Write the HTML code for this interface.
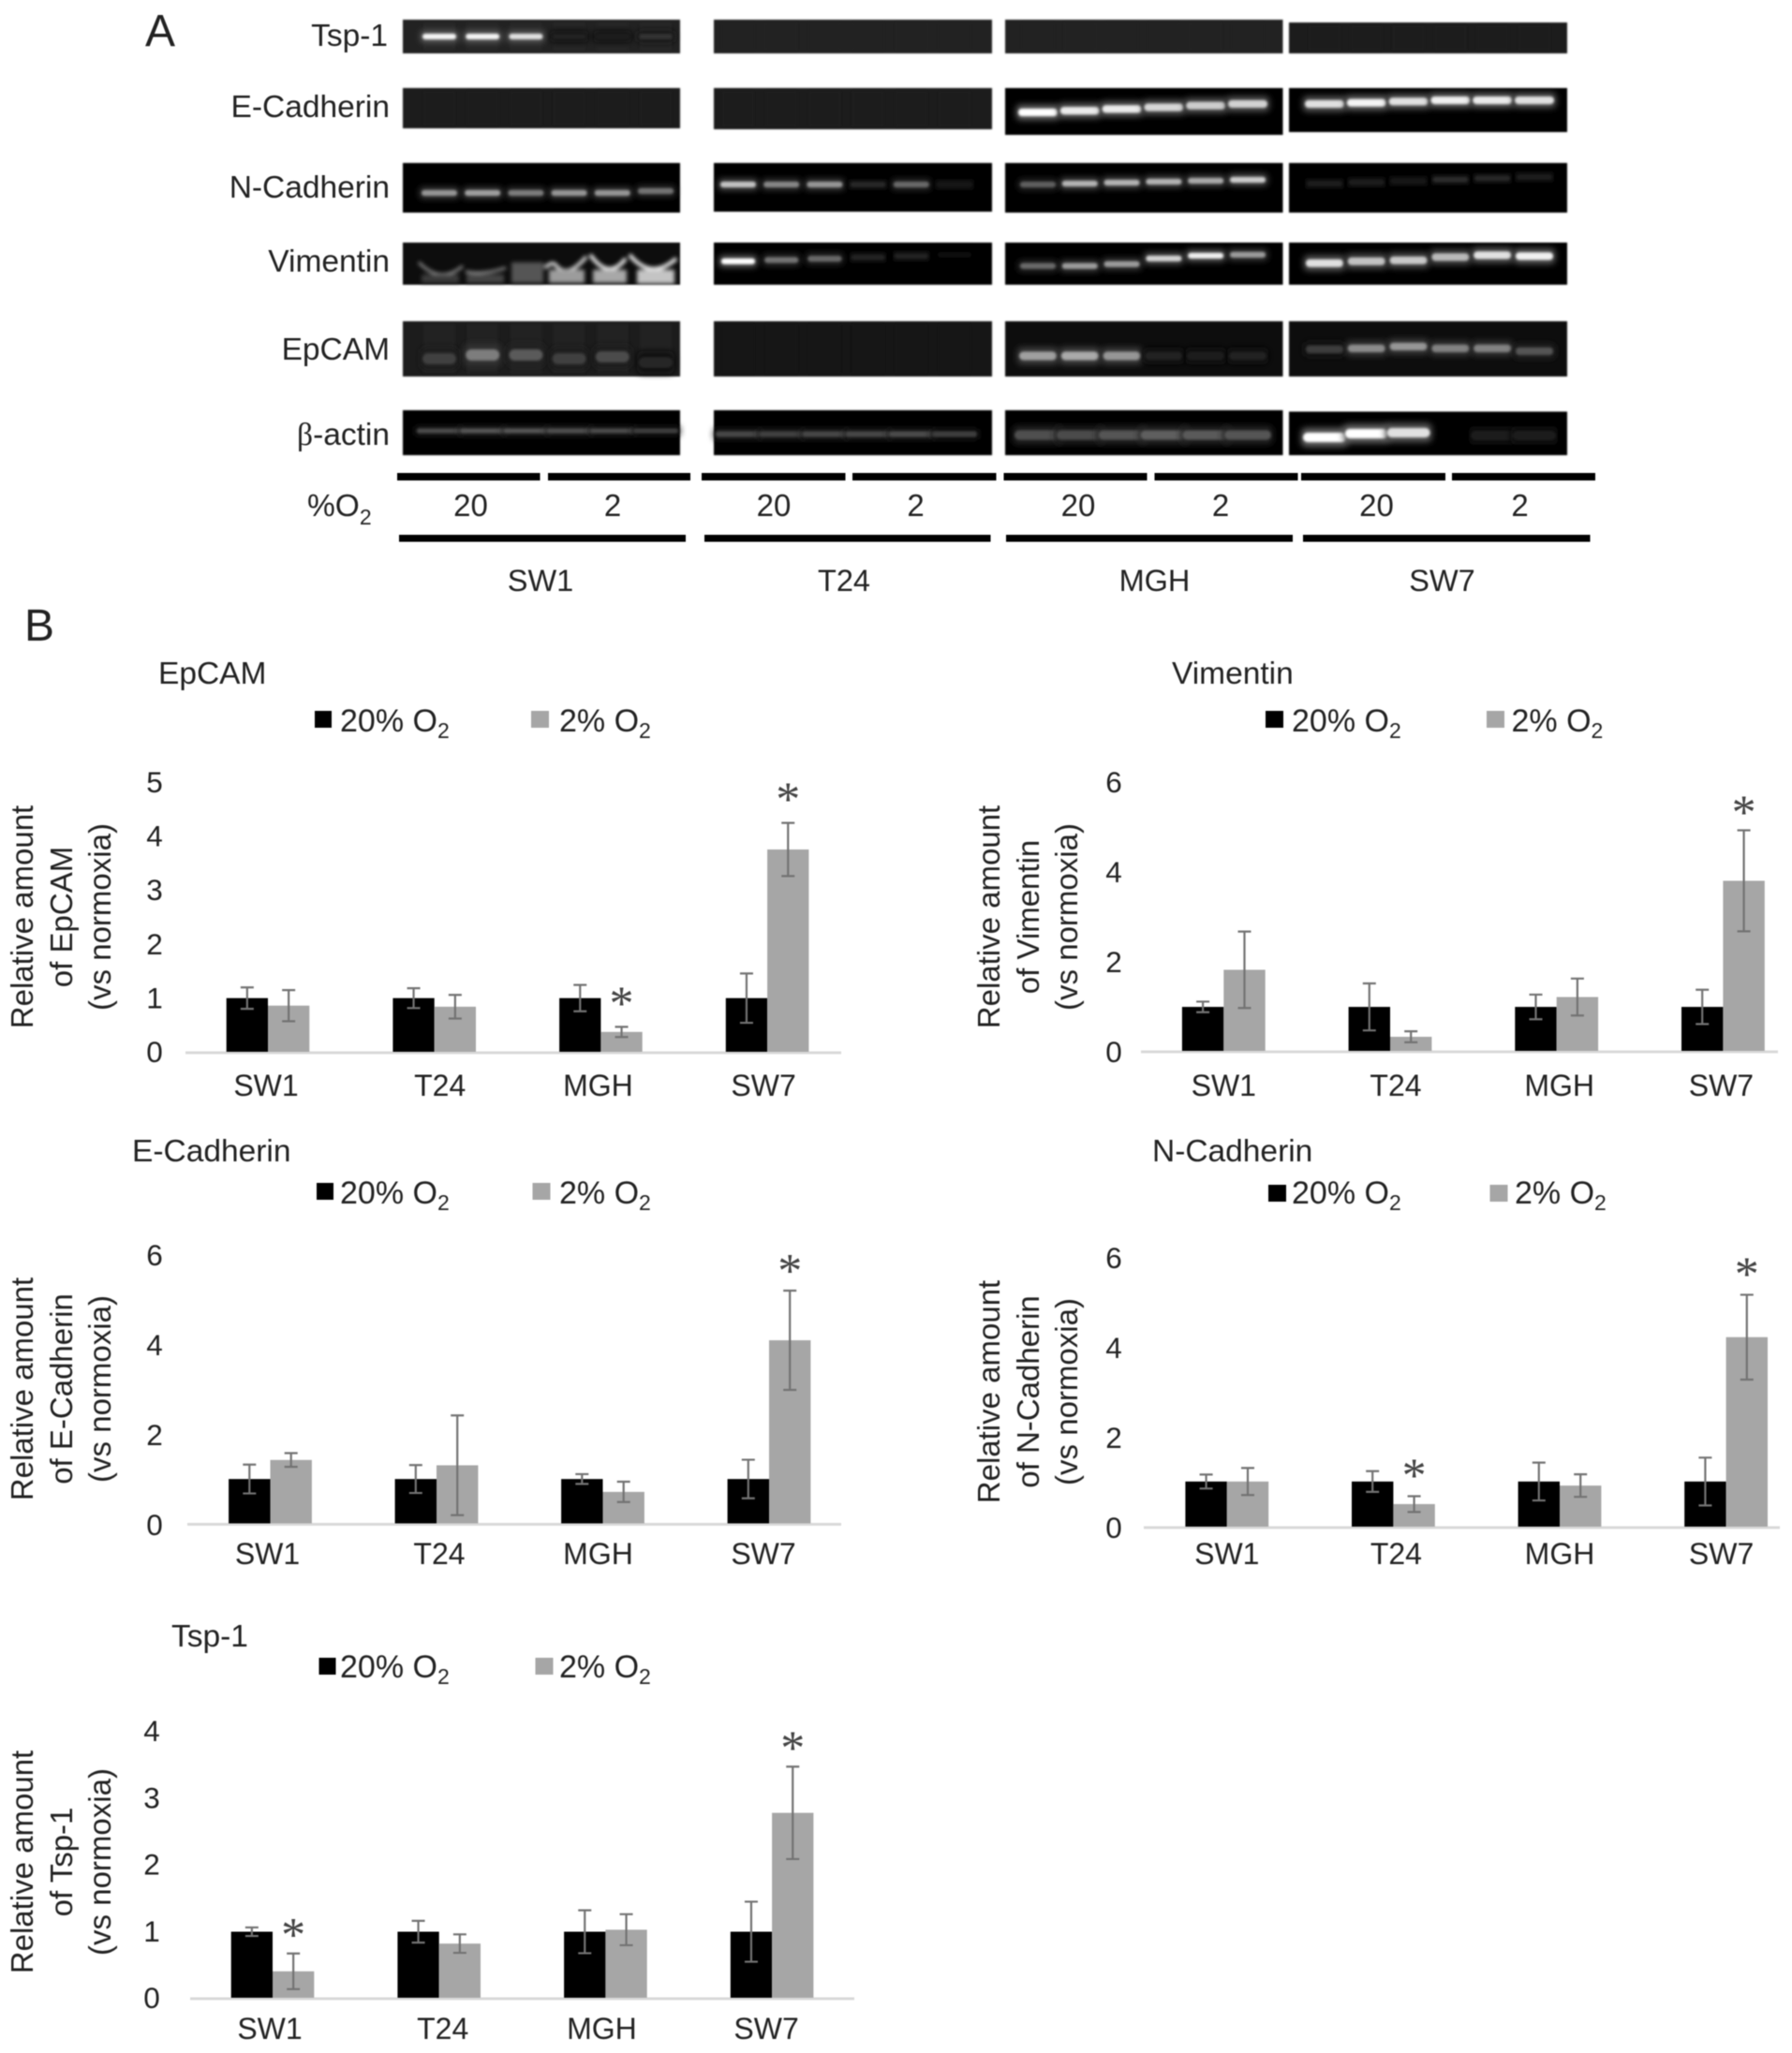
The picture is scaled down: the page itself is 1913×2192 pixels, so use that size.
<!DOCTYPE html>
<html lang="en">
<head>
<meta charset="utf-8">
<title>Protein expression under normoxia and hypoxia</title>
<style>
html,body{margin:0;padding:0;background:#fff;}
svg{display:block;}
text{font-family:"Liberation Sans",sans-serif;fill:#222;}
.lbl{font-size:33.5px;}
.title{font-size:33.5px;}
.leg{font-size:34px;}
.yt{font-size:33px;text-anchor:middle;}
.big{font-size:48px;}
.num{font-size:33px;text-anchor:middle;}
.cell{font-size:32.5px;text-anchor:middle;}
.tick{font-size:31.5px;text-anchor:middle;}
.cat{font-size:32px;text-anchor:middle;}
.star{font-family:"Liberation Serif",serif;font-size:52px;text-anchor:middle;fill:#444;}
</style>
</head>
<body>
<svg id="figure" xmlns="http://www.w3.org/2000/svg" width="1913" height="2192" viewBox="0 0 1913 2192" style="filter:blur(.6px)">
<defs>
<filter id="soft" x="-50%" y="-100%" width="200%" height="300%"><feGaussianBlur stdDeviation="1.4"/></filter>
<filter id="soft2" x="-20%" y="-50%" width="140%" height="200%"><feGaussianBlur stdDeviation="2"/></filter>
<filter id="halo" x="-50%" y="-150%" width="200%" height="400%"><feGaussianBlur stdDeviation="3.5"/></filter>
<filter id="edge"><feGaussianBlur stdDeviation="0.7"/></filter>
</defs>
<rect width="1913" height="2192" fill="#fff"/>

<!-- Panel A -->
<g id="panel-a">
<text class="big" x="155" y="49">A</text>
<text class="lbl" x="414" y="49" text-anchor="end">Tsp-1</text>
<text class="lbl" x="416" y="125" text-anchor="end">E-Cadherin</text>
<text class="lbl" x="416" y="211" text-anchor="end">N-Cadherin</text>
<text class="lbl" x="416" y="290" text-anchor="end">Vimentin</text>
<text class="lbl" x="416" y="384" text-anchor="end">EpCAM</text>
<text class="lbl" x="416" y="475" text-anchor="end"><tspan style="font-family:'Liberation Serif',serif">β</tspan>-actin</text>
<g id="blots"></g>

<g fill="#000">
<rect x="424" y="505" width="152.5" height="8"/>
<rect x="585" y="505" width="152" height="8"/>
<rect x="749" y="505" width="153.5" height="8"/>
<rect x="910" y="505" width="153.5" height="8"/>
<rect x="1071.5" y="505" width="153" height="8"/>
<rect x="1232.5" y="505" width="153" height="8"/>
<rect x="1389" y="505" width="154" height="8"/>
<rect x="1550" y="505" width="153" height="8"/>
<rect x="426" y="571" width="306" height="7.5"/>
<rect x="752" y="571" width="305.5" height="7.5"/>
<rect x="1074" y="571" width="306" height="7.5"/>
<rect x="1391" y="571" width="306.5" height="7.5"/>
</g>
<text class="lbl" x="328" y="551">%O<tspan font-size="23" dy="9">2</tspan></text>
<text class="num" x="502.5" y="551">20</text>
<text class="num" x="654" y="551">2</text>
<text class="num" x="826" y="551">20</text>
<text class="num" x="977.5" y="551">2</text>
<text class="num" x="1151" y="551">20</text>
<text class="num" x="1303" y="551">2</text>
<text class="num" x="1469.5" y="551">20</text>
<text class="num" x="1622.5" y="551">2</text>
<text class="cell" x="577" y="631">SW1</text>
<text class="cell" x="901" y="631">T24</text>
<text class="cell" x="1232.5" y="631">MGH</text>
<text class="cell" x="1539.5" y="631">SW7</text>
</g>

<text class="big" x="26" y="684">B</text>

<!-- EpCAM chart -->
<g id="chart-epcam">
<text class="title" x="169" y="730">EpCAM</text>
<rect x="336" y="759" width="18" height="18" fill="#000"/>
<text class="leg" x="363" y="781">20% O<tspan font-size="23" dy="7">2</tspan></text>
<rect x="567" y="759" width="19" height="18" fill="#a6a6a6"/>
<text class="leg" x="597" y="781">2% O<tspan font-size="23" dy="7">2</tspan></text>
<g transform="translate(35,979) rotate(-90)">
<text class="yt" x="0" y="0">Relative amount</text>
<text class="yt" x="0" y="42">of EpCAM</text>
<text class="yt" x="0" y="83">(vs normoxia)</text>
</g>
</g>

<!-- Vimentin chart -->
<g id="chart-vimentin">
<text class="title" x="1251" y="730">Vimentin</text>
<rect x="1351" y="759" width="19" height="18" fill="#000"/>
<text class="leg" x="1379" y="781">20% O<tspan font-size="23" dy="7">2</tspan></text>
<rect x="1587" y="759" width="19" height="18" fill="#a6a6a6"/>
<text class="leg" x="1613.5" y="781">2% O<tspan font-size="23" dy="7">2</tspan></text>
<g transform="translate(1067,979) rotate(-90)">
<text class="yt" x="0" y="0">Relative amount</text>
<text class="yt" x="0" y="42">of Vimentin</text>
<text class="yt" x="0" y="83">(vs normoxia)</text>
</g>
</g>

<!-- E-Cadherin chart -->
<g id="chart-ecad">
<text class="title" x="141" y="1240">E-Cadherin</text>
<rect x="338" y="1263" width="18" height="18" fill="#000"/>
<text class="leg" x="363" y="1285">20% O<tspan font-size="23" dy="7">2</tspan></text>
<rect x="568.5" y="1263" width="19" height="18" fill="#a6a6a6"/>
<text class="leg" x="597" y="1285">2% O<tspan font-size="23" dy="7">2</tspan></text>
<g transform="translate(35,1483) rotate(-90)">
<text class="yt" x="0" y="0">Relative amount</text>
<text class="yt" x="0" y="42">of E-Cadherin</text>
<text class="yt" x="0" y="83">(vs normoxia)</text>
</g>
</g>

<!-- N-Cadherin chart -->
<g id="chart-ncad">
<text class="title" x="1230" y="1240">N-Cadherin</text>
<rect x="1354" y="1265" width="19" height="18" fill="#000"/>
<text class="leg" x="1379" y="1285">20% O<tspan font-size="23" dy="7">2</tspan></text>
<rect x="1590.5" y="1265" width="19" height="18" fill="#a6a6a6"/>
<text class="leg" x="1617" y="1285">2% O<tspan font-size="23" dy="7">2</tspan></text>
<g transform="translate(1067,1486) rotate(-90)">
<text class="yt" x="0" y="0">Relative amount</text>
<text class="yt" x="0" y="42">of N-Cadherin</text>
<text class="yt" x="0" y="83">(vs normoxia)</text>
</g>
</g>

<!-- Tsp-1 chart -->
<g id="chart-tsp">
<text class="title" x="183" y="1758">Tsp-1</text>
<rect x="340.5" y="1770" width="18" height="18" fill="#000"/>
<text class="leg" x="363" y="1791">20% O<tspan font-size="23" dy="7">2</tspan></text>
<rect x="571.5" y="1770" width="19" height="18" fill="#a6a6a6"/>
<text class="leg" x="597" y="1791">2% O<tspan font-size="23" dy="7">2</tspan></text>
<g transform="translate(35,1988) rotate(-90)">
<text class="yt" x="0" y="0">Relative amount</text>
<text class="yt" x="0" y="42">of Tsp-1</text>
<text class="yt" x="0" y="83">(vs normoxia)</text>
</g>
</g>
</svg>

<script>
// ---- shared categories ----
const categories = ['SW1', 'T24', 'MGH', 'SW7'];

// ---- EpCAM ----
const epcamTicks = [0, 1, 2, 3, 4, 5];
const epcamNormoxia = [1, 1, 1, 1];
const epcamHypoxia = [0.86, 0.84, 0.37, 3.77];
const epcamNormoxiaErr = [0.2, 0.185, 0.245, 0.46];
const epcamHypoxiaErr = [0.29, 0.22, 0.095, 0.495];
const epcamSignificant = [0, 0, 1, 1];

// ---- Vimentin ----
const vimentinTicks = [0, 2, 4, 6];
const vimentinNormoxia = [1, 1, 1, 1];
const vimentinHypoxia = [1.845, 0.32, 1.225, 3.87];
const vimentinNormoxiaErr = [0.12, 0.535, 0.28, 0.39];
const vimentinHypoxiaErr = [0.87, 0.125, 0.42, 1.15];
const vimentinSignificant = [0, 0, 0, 1];

// ---- E-Cadherin ----
const ecadTicks = [0, 2, 4, 6];
const ecadNormoxia = [1, 1, 1, 1];
const ecadHypoxia = [1.43, 1.31, 0.71, 4.13];
const ecadNormoxiaErr = [0.325, 0.315, 0.11, 0.435];
const ecadHypoxiaErr = [0.155, 1.125, 0.23, 1.12];
const ecadSignificant = [0, 0, 0, 1];

// ---- N-Cadherin ----
const ncadTicks = [0, 2, 4, 6];
const ncadNormoxia = [1, 1, 1, 1];
const ncadHypoxia = [1.0, 0.5, 0.91, 4.2];
const ncadNormoxiaErr = [0.155, 0.23, 0.42, 0.53];
const ncadHypoxiaErr = [0.3, 0.175, 0.25, 0.94];
const ncadSignificant = [0, 1, 0, 1];

// ---- Tsp-1 ----
const tspTicks = [0, 1, 2, 3, 4];
const tspNormoxia = [1, 1, 1, 1];
const tspHypoxia = [0.40, 0.82, 1.03, 2.80];
const tspNormoxiaErr = [0.065, 0.165, 0.325, 0.455];
const tspHypoxiaErr = [0.27, 0.14, 0.235, 0.7];
const tspSignificant = [1, 0, 0, 1];

const NS = 'http://www.w3.org/2000/svg';
function mk(tag, props, parent) {
  const el = document.createElementNS(NS, tag);
  for (const k in props) el.setAttribute(k, props[k]);
  parent.appendChild(el);
  return el;
}

function drawChart(host, prefix, layout, ticks, normoxia, hypoxia, normoxiaErr, hypoxiaErr, significant) {
  const parent = document.getElementById(host);
  const yMax = ticks[ticks.length - 1];
  const yScale = v => layout.baseY - v * layout.plotH / yMax;
  const tickY = v => layout.tick0Y - v * layout.tickSpan / yMax;
  const xScale = i => layout.center0 + i * layout.step;

  const axis = mk('rect', {x: layout.axisL, y: layout.baseY - 0.5, width: layout.axisR - layout.axisL, height: 3, fill: '#d9d9d9'}, parent);
  
  

  ticks.forEach(t => {
    const label = mk('text', {class: 'tick', x: layout.tickX, y: tickY(t) + 9}, parent);
    label.textContent = t;
    
    
  });

  categories.forEach((c, i) => {
    const cx = xScale(i);
    const label = mk('text', {class: 'cat', x: cx + layout.catNudge[i], y: layout.catY}, parent);
    label.textContent = c;
    
    

    const y20 = yScale(normoxia[i]);
    const bar20 = mk('rect', {x: cx - layout.barW, y: y20, width: layout.barW, height: layout.baseY - y20, fill: '#000'}, parent);
    
    

    const y2 = yScale(hypoxia[i]);
    const bar2 = mk('rect', {x: cx, y: y2, width: layout.barW, height: layout.baseY - y2, fill: '#a6a6a6'}, parent);
    
    

    [[cx - layout.barW / 2, normoxia[i], normoxiaErr[i], '20'], [cx + layout.barW / 2, hypoxia[i], hypoxiaErr[i], '2']].forEach(s => {
      const top = yScale(s[1] + s[2]);
      const bot = yScale(s[1] - s[2]);
      const err = mk('path', {d: 'M' + s[0] + ' ' + top + 'V' + bot + 'M' + (s[0] - 7) + ' ' + top + 'H' + (s[0] + 7) + 'M' + (s[0] - 7) + ' ' + bot + 'H' + (s[0] + 7), fill: 'none', stroke: '#737373', 'stroke-width': 2.2}, parent);
      
      
    });

    if (significant[i]) {
      const starY = yScale(hypoxia[i] + hypoxiaErr[i]) - layout.starGap;
      const star = mk('text', {class: 'star', x: cx + layout.barW / 2, y: starY + 22}, parent);
      star.textContent = '*';
      
      
    }
  });
}

drawChart('chart-epcam', 'epcam', {baseY: 1123, plotH: 286.5, tick0Y: 1125, tickSpan: 288, center0: 286, step: 177.7, barW: 44.3, axisL: 198, axisR: 898, tickX: 165, catY: 1170, catNudge: [-2, 6, -3, -4], starGap: 30},
  epcamTicks, epcamNormoxia, epcamHypoxia, epcamNormoxiaErr, epcamHypoxiaErr, epcamSignificant);
drawChart('chart-vimentin', 'vimentin', {baseY: 1122, plotH: 281.5, tick0Y: 1125, tickSpan: 288, center0: 1306.3, step: 177.7, barW: 44.4, axisL: 1218, axisR: 1898, tickX: 1189, catY: 1170, catNudge: [0, 6, 3, -2], starGap: 24},
  vimentinTicks, vimentinNormoxia, vimentinHypoxia, vimentinNormoxiaErr, vimentinHypoxiaErr, vimentinSignificant);
drawChart('chart-ecad', 'e-cadherin', {baseY: 1626.5, plotH: 284, tick0Y: 1630, tickSpan: 288, center0: 288.5, step: 177.5, barW: 44.4, axisL: 200, axisR: 898, tickX: 165, catY: 1670, catNudge: [-3, 3, -5, -6], starGap: 26},
  ecadTicks, ecadNormoxia, ecadHypoxia, ecadNormoxiaErr, ecadHypoxiaErr, ecadSignificant);
drawChart('chart-ncad', 'n-cadherin', {baseY: 1630, plotH: 289, tick0Y: 1633, tickSpan: 288, center0: 1309.8, step: 177.6, barW: 44.4, axisL: 1221, axisR: 1900, tickX: 1189, catY: 1670, catNudge: [0, 3, 0, -5], starGap: 27},
  ncadTicks, ncadNormoxia, ncadHypoxia, ncadNormoxiaErr, ncadHypoxiaErr, ncadSignificant);
drawChart('chart-tsp', 'tsp-1', {baseY: 2133, plotH: 282, tick0Y: 2135, tickSpan: 285, center0: 291, step: 177.7, barW: 44.3, axisL: 203, axisR: 912, tickX: 162, catY: 2177, catNudge: [-3, 4, -4, -6], starGap: 25},
  tspTicks, tspNormoxia, tspHypoxia, tspNormoxiaErr, tspHypoxiaErr, tspSignificant);

// ---- Panel A blots: band brightness per lane ----
const tspBandsSW1 = [245, 245, 225, 34, 30, 48];
const ncadBandsSW1 = [150, 160, 125, 150, 150, 115];
const ncadBandsT24 = [195, 135, 150, 40, 105, 25];
const ncadBandsMGH = [95, 180, 180, 180, 170, 205];
const ncadBandsSW7 = [30, 26, 22, 42, 40, 30];
const ecadBandsMGH = [255, 235, 235, 215, 205, 210];
const ecadBandsSW7 = [225, 245, 225, 240, 235, 225];
const vimBandsT24 = [255, 115, 105, 35, 35, 14];
const vimBandsMGH = [105, 155, 155, 210, 240, 155];
const vimBandsSW7 = [225, 195, 200, 185, 225, 240];
const epcamBandsSW1 = [65, 125, 90, 65, 75, 40];
const epcamBandsMGH = [160, 170, 150, 35, 28, 32];
const epcamBandsSW7 = [60, 140, 150, 130, 130, 85];
const actinBandsSW1 = [75, 85, 85, 80, 75, 60];
const actinBandsT24 = [70, 65, 70, 70, 75, 60];
const actinBandsMGH = [80, 75, 85, 95, 90, 85];
const actinBandsSW7 = [255, 255, 225, 0, 30, 30];

const blotHost = document.getElementById('blots');
const SW1 = {name: 'sw1', left: 430, right: 726, lane0: 39, laneStep: 46.2};
const T24 = {name: 't24', left: 762, right: 1059, lane0: 26, laneStep: 46.2};
const MGH = {name: 'mgh', left: 1073, right: 1369.5, lane0: 35, laneStep: 44.8};
const SW7 = {name: 'sw7', left: 1376, right: 1673, lane0: 38, laneStep: 44.8};

function blot(col, row, top, bottom, bg, smear, bands, yAt, bandH, bandW) {
  const block = mk('g', {}, blotHost);
  
  
  const c = 'rgb(' + bg + ',' + bg + ',' + bg + ')';
  mk('rect', {x: col.left, y: top, width: col.right - col.left, height: bottom - top, fill: c, filter: 'url(#edge)'}, block);
  for (let i = 0; i < 6; i++) {
    const x = col.left + col.lane0 + i * col.laneStep;
    if (smear) {
      const s = bg + smear;
      mk('rect', {x: x - 17, y: top + 3, width: 34, height: bottom - top - 6, fill: 'rgb(' + s + ',' + s + ',' + s + ')', filter: 'url(#soft)'}, block);
    }
    if (!bands || !bands[i]) continue;
    const v = bands[i];
    const w = bandW || 20;
    const h = bandH || 4;
    const halo = Math.round(v * 0.4);
    mk('rect', {x: x - w - 2, y: yAt(i) - h * 2, width: 2 * w + 4, height: h * 4, rx: h, fill: 'rgb(' + halo + ',' + halo + ',' + halo + ')', filter: 'url(#halo)'}, block);
    mk('rect', {x: x - w, y: yAt(i) - h, width: 2 * w, height: 2 * h, rx: h, fill: 'rgb(' + v + ',' + v + ',' + v + ')', filter: 'url(#soft)'}, block);
  }
}

// Tsp-1
blot(SW1, 'tsp-1', 21, 57, 32, 5, tspBandsSW1, i => 39, 3, 18);
blot(T24, 'tsp-1', 21, 57, 32, 3);
blot(MGH, 'tsp-1', 21, 57, 33, 3);
blot(SW7, 'tsp-1', 24, 57, 28, 3);
// E-Cadherin
blot(SW1, 'e-cadherin', 94, 137, 26, 4);
blot(T24, 'e-cadherin', 94, 138, 26, 5);
blot(MGH, 'e-cadherin', 94, 144, 5, 0, ecadBandsMGH, i => 120 - i * 1.8, 4, 21);
blot(SW7, 'e-cadherin', 94, 141, 5, 0, ecadBandsSW7, i => 111 - Math.min(i, 3) * 1.3, 4, 21);
// N-Cadherin
blot(SW1, 'n-cadherin', 174, 227, 5, 0, ncadBandsSW1, i => 206 - (i === 5 ? 2 : 0), 3, 19);
blot(T24, 'n-cadherin', 174, 226, 5, 0, ncadBandsT24, i => 197, 3, 19);
blot(MGH, 'n-cadherin', 174, 227, 5, 0, ncadBandsMGH, i => 197 - i, 3, 19);
blot(SW7, 'n-cadherin', 174, 227, 5, 0, ncadBandsSW7, i => 196 - i * 1.4, 3, 19);
// Vimentin
blot(SW1, 'vimentin', 259, 304, 8, 0);
const vimSW1 = mk('g', {filter: 'url(#soft2)', fill: 'none'}, blotHost);


mk('path', {d: 'M447 280Q470 304 494 284', stroke: '#8a8a8a', 'stroke-width': 3}, vimSW1);
mk('rect', {x: 450, y: 293, width: 40, height: 9, fill: '#3a3a3a'}, vimSW1);
mk('path', {d: 'M497 290Q515 294 540 286', stroke: '#8a8a8a', 'stroke-width': 3}, vimSW1);
mk('rect', {x: 498, y: 293, width: 40, height: 9, fill: '#444'}, vimSW1);
mk('rect', {x: 546, y: 280, width: 34, height: 22, fill: '#555'}, vimSW1);
mk('path', {d: 'M582 286Q590 278 594 284Q606 298 626 274', stroke: '#d0d0d0', 'stroke-width': 4}, vimSW1);
mk('rect', {x: 586, y: 288, width: 38, height: 14, fill: '#9c9c9c'}, vimSW1);
mk('path', {d: 'M630 272Q650 300 668 276', stroke: '#f0f0f0', 'stroke-width': 4}, vimSW1);
mk('rect', {x: 633, y: 288, width: 36, height: 14, fill: '#a8a8a8'}, vimSW1);
mk('path', {d: 'M672 272Q695 300 722 276', stroke: '#f5f5f5', 'stroke-width': 4}, vimSW1);
mk('rect', {x: 680, y: 288, width: 40, height: 15, fill: '#c4c4c4'}, vimSW1);
blot(T24, 'vimentin', 259, 304, 6, 0, vimBandsT24, i => 279 - i * 1.4, 3, 18);
blot(MGH, 'vimentin', 259, 304, 6, 0, vimBandsMGH, i => [284, 284, 282, 276, 273, 272][i], 3, 19);
blot(SW7, 'vimentin', 259, 304, 6, 0, vimBandsSW7, i => [281, 279, 278, 274.5, 272.5, 273.5][i], 4, 20);
// EpCAM
blot(SW1, 'epcam', 343, 402, 26, 6, epcamBandsSW1, i => [383, 379, 379, 383, 381, 387][i], 6, 18);
blot(T24, 'epcam', 343, 402, 18, 3);
blot(MGH, 'epcam', 343, 402, 10, 0, epcamBandsMGH, i => 380, 4.5, 20);
blot(SW7, 'epcam', 343, 402, 10, 0, epcamBandsSW7, i => [373, 372, 370, 372, 372, 375][i], 4, 20);
// beta-actin
blot(SW1, 'beta-actin', 438, 486, 6, 0, actinBandsSW1, i => 460, 2.5, 24);
blot(T24, 'beta-actin', 438, 486, 6, 0, actinBandsT24, i => 463.5, 3, 24);
blot(MGH, 'beta-actin', 438, 486, 6, 0, actinBandsMGH, i => 464.5, 5, 25);
blot(SW7, 'beta-actin', 439.5, 486, 6, 0, actinBandsSW7, i => [467, 463, 462, 462, 465, 465][i], 5, 23);
</script>
</body>
</html>
